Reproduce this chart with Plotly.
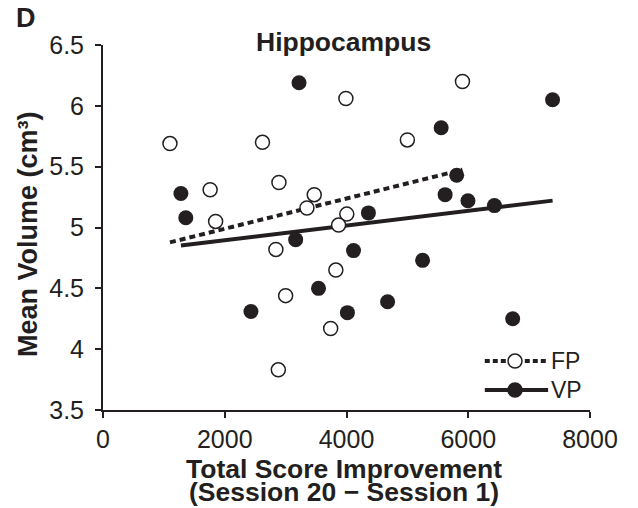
import numpy as np
import plotly.graph_objects as go

# Total score improvement (Session 20 - Session 1) and mean hippocampal volume
fp_improvement = [1100, 2620, 1760, 2890, 3470, 3350, 1850, 4005, 3870,
                  3990, 5905, 5000, 2840, 3825, 3000, 3740, 2880]
fp_volume = [5.69, 5.70, 5.31, 5.37, 5.27, 5.16, 5.05, 5.11, 5.02,
             6.06, 6.20, 5.72, 4.82, 4.65, 4.44, 4.17, 3.83]

vp_improvement = [3220, 1280, 1360, 4360, 7385, 5555, 5810, 5620, 5995,
                  6430, 3165, 4115, 3540, 2430, 4015, 5250, 4675, 6730]
vp_volume = [6.19, 5.28, 5.08, 5.12, 6.05, 5.82, 5.43, 5.27, 5.22,
             5.18, 4.90, 4.81, 4.50, 4.31, 4.30, 4.73, 4.39, 4.25]

x_ticks = [0, 2000, 4000, 6000, 8000]
y_ticks = [3.5, 4, 4.5, 5, 5.5, 6, 6.5]
groups = ["FP", "VP"]

INK = "#231f20"
FONT = "Liberation Sans, Arial, sans-serif"


def fit_line(x, y):
    """Least-squares line spanning the group's x range."""
    x = np.asarray(x, float)
    y = np.asarray(y, float)
    slope, intercept = np.polyfit(x, y, 1)
    xs = np.array([x.min(), x.max()])
    return xs, slope * xs + intercept


fig = go.Figure()

fp_x, fp_y = fit_line(fp_improvement, fp_volume)
vp_x, vp_y = fit_line(vp_improvement, vp_volume)

# regression lines
fig.add_trace(go.Scatter(x=fp_x, y=fp_y, mode="lines", showlegend=False,
                         line=dict(color=INK, width=4, dash="6px,4px")))
fig.add_trace(go.Scatter(x=vp_x, y=vp_y, mode="lines", showlegend=False,
                         line=dict(color=INK, width=4)))

# individual participants
fig.add_trace(go.Scatter(x=fp_improvement, y=fp_volume, mode="markers",
                         showlegend=False,
                         marker=dict(size=14, color="white",
                                     line=dict(color=INK, width=1.5))))
fig.add_trace(go.Scatter(x=vp_improvement, y=vp_volume, mode="markers",
                         showlegend=False,
                         marker=dict(size=15, color=INK,
                                     line=dict(color=INK, width=0))))

axis_common = dict(
    showgrid=False, zeroline=False, showline=True, linecolor=INK, linewidth=2,
    ticks="outside", ticklen=6, tickwidth=2, tickcolor=INK,
    tickfont=dict(family=FONT, size=25, color=INK),
)

fig.update_xaxes(range=[0, 8000], tickvals=x_ticks,
                 ticktext=[str(v) for v in x_ticks], **axis_common)
fig.update_yaxes(range=[3.5, 6.5], tickvals=y_ticks,
                 ticktext=[f"{v:g}" for v in y_ticks],
                 ticklabelstandoff=6, **axis_common)

annotations = [
    dict(text="<b>Hippocampus</b>", x=0.493, y=1.008, xref="paper", yref="paper",
         xanchor="center", yanchor="middle", showarrow=False,
         font=dict(family=FONT, size=26.5, color=INK)),
    dict(text="<b>D</b>", x=-0.158, y=1.075, xref="paper", yref="paper",
         xanchor="center", yanchor="middle", showarrow=False,
         font=dict(family=FONT, size=27, color=INK)),
    dict(text="<b>Total Score Improvement</b>", x=0.495, y=-0.162,
         xref="paper", yref="paper", xanchor="center", yanchor="middle",
         showarrow=False, font=dict(family=FONT, size=26.5, color=INK)),
    dict(text="<b>(Session 20 \u2212 Session 1)</b>", x=0.495, y=-0.226,
         xref="paper", yref="paper", xanchor="center", yanchor="middle",
         showarrow=False, font=dict(family=FONT, size=26.5, color=INK)),
    dict(text="<b>Mean Volume (cm\u00b3)</b>", x=-0.154, y=0.482,
         xref="paper", yref="paper", xanchor="center", yanchor="middle",
         textangle=-90, showarrow=False,
         font=dict(family=FONT, size=27, color=INK)),
]

# key in the lower-right corner: line through a marker, then the group name
key_left, key_mid, key_right = 0.784, 0.846, 0.914
key_rows = [0.134, 0.055]
key_dash = ["5px,3px", "solid"]
key_fill = ["white", INK]
shapes = []
for name, row, dash, fill in zip(groups, key_rows, key_dash, key_fill):
    shapes.append(dict(type="line", xref="paper", yref="paper",
                       x0=key_left, x1=key_right, y0=row, y1=row,
                       line=dict(color=INK, width=4, dash=dash)))
    shapes.append(dict(type="circle", xref="paper", yref="paper",
                       xsizemode="pixel", ysizemode="pixel",
                       xanchor=key_mid, yanchor=row,
                       x0=-7, x1=7, y0=-7, y1=7,
                       fillcolor=fill, line=dict(color=INK, width=1.5)))
    annotations.append(dict(text=name, x=key_right + 0.002, y=row,
                            xref="paper", yref="paper",
                            xanchor="left", yanchor="middle", showarrow=False,
                            font=dict(family=FONT, size=23, color=INK)))

fig.update_layout(
    width=638, height=508,
    margin=dict(l=103, r=48, t=45, b=98),
    paper_bgcolor="white", plot_bgcolor="white",
    font=dict(family=FONT, color=INK),
    showlegend=False,
    annotations=annotations,
    shapes=shapes,
)

fig.write_html("out.html")
